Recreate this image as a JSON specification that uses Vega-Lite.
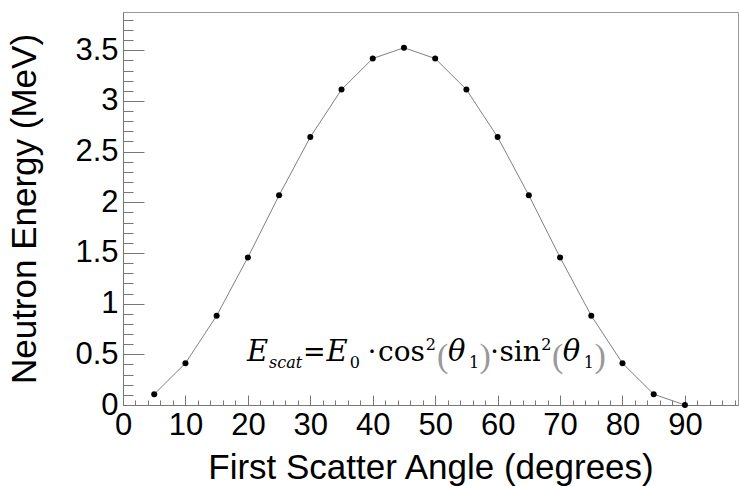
{
  "$schema": "https://vega.github.io/schema/vega-lite/v6.json",
  "autosize": "none",
  "width": 615,
  "height": 393,
  "padding": {"left": 123, "top": 12, "right": 1, "bottom": 81},
  "background": "white",
  "config": {
    "view": {"stroke": "#9a9a9a", "strokeWidth": 1},
    "axis": {
      "labelFont": "Liberation Sans",
      "labelFontSize": 31,
      "labelColor": "black",
      "titleFont": "Liberation Sans",
      "titleFontSize": 35,
      "titleFontWeight": "normal",
      "titleColor": "black",
      "domainColor": "#777777",
      "tickColor": "#777777",
      "grid": false,
      "labelOverlap": false,
      "labelFlush": false,
      "labelBound": false
    },
    "text": {"font": "DejaVu Serif", "align": "left", "baseline": "alphabetic", "color": "black"}
  },
  "datasets": {
    "energy": [
      {"angle": 5, "energy": 0.1063},
      {"angle": 10, "energy": 0.4123},
      {"angle": 15, "energy": 0.8813},
      {"angle": 20, "energy": 1.4564},
      {"angle": 25, "energy": 2.0686},
      {"angle": 30, "energy": 2.6438},
      {"angle": 35, "energy": 3.1127},
      {"angle": 40, "energy": 3.4187},
      {"angle": 45, "energy": 3.525},
      {"angle": 50, "energy": 3.4187},
      {"angle": 55, "energy": 3.1127},
      {"angle": 60, "energy": 2.6438},
      {"angle": 65, "energy": 2.0686},
      {"angle": 70, "energy": 1.4564},
      {"angle": 75, "energy": 0.8813},
      {"angle": 80, "energy": 0.4123},
      {"angle": 85, "energy": 0.1063},
      {"angle": 90, "energy": 0.0}
    ],
    "one": [{"label": "formula"}]
  },
  "resolve": {"axis": {"x": "independent", "y": "independent"}},
  "layer": [
    {
      "data": {"name": "energy"},
      "mark": {"type": "line", "color": "#808080", "strokeWidth": 1, "point": {"filled": true, "color": "black", "size": 36, "opacity": 1}},
      "encoding": {
        "x": {
          "field": "angle", "type": "quantitative",
          "scale": {"domain": [0, 98.5], "nice": false, "zero": false},
          "axis": {
            "title": "First Scatter Angle (degrees)",
            "values": [0,2,4,6,8,10,12,14,16,18,20,22,24,26,28,30,32,34,36,38,40,42,44,46,48,50,52,54,56,58,60,62,64,66,68,70,72,74,76,78,80,82,84,86,88,90,92,94,96,98],
            "labelExpr": "datum.value % 10 === 0 ? format(datum.value, 'd') : ''",
            "tickSize": {"condition": {"test": "datum.value % 10 === 0", "value": -10}, "value": -5},
            "labelPadding": 15,
            "titleX": 307.5,
            "titleY": 73,
            "titleAlign": "center",
            "titleBaseline": "alphabetic"
          }
        },
        "y": {
          "field": "energy", "type": "quantitative",
          "scale": {"domain": [0, 3.8775], "nice": false, "zero": false},
          "axis": {
            "title": "Neutron Energy (MeV)",
            "values": [0,0.1,0.2,0.3,0.4,0.5,0.6,0.7,0.8,0.9,1,1.1,1.2,1.3,1.4,1.5,1.6,1.7,1.8,1.9,2,2.1,2.2,2.3,2.4,2.5,2.6,2.7,2.8,2.9,3,3.1,3.2,3.3,3.4,3.5,3.6,3.7,3.8],
            "labelExpr": "abs(datum.value * 2 - round(datum.value * 2)) < 0.000001 ? format(datum.value, '~g') : ''",
            "tickSize": {"condition": {"test": "abs(datum.value * 2 - round(datum.value * 2)) < 0.000001", "value": -21}, "value": -10},
            "labelPadding": 26,
            "titleX": -88,
            "titleY": 196.5,
            "titleAngle": 270,
            "titleAlign": "center",
            "titleBaseline": "alphabetic"
          }
        }
      }
    },
    {
      "data": {"name": "one"},
      "layer": [
        {"mark": {"type": "text", "text": "E", "fontStyle": "italic", "fontSize": 29},
         "encoding": {"x": {"datum": 19.86, "type": "quantitative", "axis": null}, "y": {"datum": 0.435, "type": "quantitative", "axis": null}}},
        {"mark": {"type": "text", "text": "scat", "fontStyle": "italic", "fontSize": 16},
         "encoding": {"x": {"datum": 23.4, "type": "quantitative", "axis": null}, "y": {"datum": 0.366, "type": "quantitative", "axis": null}}},
        {"mark": {"type": "text", "text": "=", "fontSize": 27},
         "encoding": {"x": {"datum": 28.83, "type": "quantitative", "axis": null}, "y": {"datum": 0.435, "type": "quantitative", "axis": null}}},
        {"mark": {"type": "text", "text": "E", "fontStyle": "italic", "fontSize": 29},
         "encoding": {"x": {"datum": 32.6, "type": "quantitative", "axis": null}, "y": {"datum": 0.435, "type": "quantitative", "axis": null}}},
        {"mark": {"type": "text", "text": "0", "fontSize": 16},
         "encoding": {"x": {"datum": 36.3, "type": "quantitative", "axis": null}, "y": {"datum": 0.366, "type": "quantitative", "axis": null}}},
        {"mark": {"type": "text", "text": "·", "fontSize": 27, "align": "center"},
         "encoding": {"x": {"datum": 39.88, "type": "quantitative", "axis": null}, "y": {"datum": 0.435, "type": "quantitative", "axis": null}}},
        {"mark": {"type": "text", "text": "cos", "fontSize": 28},
         "encoding": {"x": {"datum": 40.84, "type": "quantitative", "axis": null}, "y": {"datum": 0.435, "type": "quantitative", "axis": null}}},
        {"mark": {"type": "text", "text": "2", "fontSize": 16},
         "encoding": {"x": {"datum": 48.5, "type": "quantitative", "axis": null}, "y": {"datum": 0.544, "type": "quantitative", "axis": null}}},
        {"mark": {"type": "text", "text": "(", "font": "Liberation Serif", "fontSize": 34, "color": "#999999"},
         "encoding": {"x": {"datum": 50.3, "type": "quantitative", "axis": null}, "y": {"datum": 0.37, "type": "quantitative", "axis": null}}},
        {"mark": {"type": "text", "text": "θ", "fontStyle": "italic", "fontSize": 29},
         "encoding": {"x": {"datum": 52.05, "type": "quantitative", "axis": null}, "y": {"datum": 0.435, "type": "quantitative", "axis": null}}},
        {"mark": {"type": "text", "text": "1", "fontSize": 16},
         "encoding": {"x": {"datum": 55.4, "type": "quantitative", "axis": null}, "y": {"datum": 0.366, "type": "quantitative", "axis": null}}},
        {"mark": {"type": "text", "text": ")", "font": "Liberation Serif", "fontSize": 34, "color": "#999999"},
         "encoding": {"x": {"datum": 57.1, "type": "quantitative", "axis": null}, "y": {"datum": 0.37, "type": "quantitative", "axis": null}}},
        {"mark": {"type": "text", "text": "·", "fontSize": 27, "align": "center"},
         "encoding": {"x": {"datum": 59.5, "type": "quantitative", "axis": null}, "y": {"datum": 0.435, "type": "quantitative", "axis": null}}},
        {"mark": {"type": "text", "text": "sin", "fontSize": 28},
         "encoding": {"x": {"datum": 60.3, "type": "quantitative", "axis": null}, "y": {"datum": 0.435, "type": "quantitative", "axis": null}}},
        {"mark": {"type": "text", "text": "2", "fontSize": 16},
         "encoding": {"x": {"datum": 67.0, "type": "quantitative", "axis": null}, "y": {"datum": 0.544, "type": "quantitative", "axis": null}}},
        {"mark": {"type": "text", "text": "(", "font": "Liberation Serif", "fontSize": 34, "color": "#999999"},
         "encoding": {"x": {"datum": 68.7, "type": "quantitative", "axis": null}, "y": {"datum": 0.37, "type": "quantitative", "axis": null}}},
        {"mark": {"type": "text", "text": "θ", "fontStyle": "italic", "fontSize": 29},
         "encoding": {"x": {"datum": 70.45, "type": "quantitative", "axis": null}, "y": {"datum": 0.435, "type": "quantitative", "axis": null}}},
        {"mark": {"type": "text", "text": "1", "fontSize": 16},
         "encoding": {"x": {"datum": 73.8, "type": "quantitative", "axis": null}, "y": {"datum": 0.366, "type": "quantitative", "axis": null}}},
        {"mark": {"type": "text", "text": ")", "font": "Liberation Serif", "fontSize": 34, "color": "#999999"},
         "encoding": {"x": {"datum": 75.5, "type": "quantitative", "axis": null}, "y": {"datum": 0.37, "type": "quantitative", "axis": null}}}
      ]
    }
  ]
}
